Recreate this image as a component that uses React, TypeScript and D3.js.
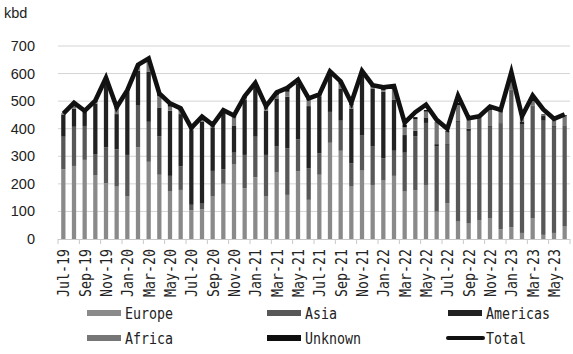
import { useEffect, useRef } from "react";
import * as d3 from "d3";

// monthly exports by destination, kbd
const months = [
  "Jul-19", "Aug-19", "Sep-19", "Oct-19", "Nov-19", "Dec-19",
  "Jan-20", "Feb-20", "Mar-20", "Apr-20", "May-20", "Jun-20",
  "Jul-20", "Aug-20", "Sep-20", "Oct-20", "Nov-20", "Dec-20",
  "Jan-21", "Feb-21", "Mar-21", "Apr-21", "May-21", "Jun-21",
  "Jul-21", "Aug-21", "Sep-21", "Oct-21", "Nov-21", "Dec-21",
  "Jan-22", "Feb-22", "Mar-22", "Apr-22", "May-22", "Jun-22",
  "Jul-22", "Aug-22", "Sep-22", "Oct-22", "Nov-22", "Dec-22",
  "Jan-23", "Feb-23", "Mar-23", "Apr-23", "May-23", "Jun-23",
];

const europe = [
  253, 265, 287, 232, 202, 190, 154, 333, 280, 233, 172, 178,
  104, 108, 154, 200, 272, 184, 224, 154, 241, 160, 245, 142,
  233, 349, 320, 190, 248, 196, 212, 229, 172, 176, 196, 99,
  129, 63, 58, 69, 76, 35, 43, 22, 76, 15, 22, 45,
];
const asia = [
  118, 142, 123, 76, 130, 135, 151, 153, 145, 140, 57, 85,
  20, 20, 93, 53, 41, 121, 147, 151, 96, 169, 116, 115,
  78, 112, 109, 85, 129, 141, 81, 91, 141, 197, 225, 238,
  212, 362, 334, 369, 331, 385, 497, 395, 406, 414, 385, 365,
];
const americas = [
  79, 66, 51, 183, 244, 128, 229, 124, 181, 104, 236, 190,
  271, 297, 158, 208, 97, 199, 181, 160, 173, 187, 203, 225,
  207, 139, 117, 198, 217, 209, 241, 186, 64, 20, 20, 7,
  3, 3, 8, 2, 3, 3, 2, 8, 2, 17, 3, 2,
];
const africa = [
  3, 9, 2, 5, 4, 20, 4, 14, 40, 41, 15, 10,
  3, 6, 3, 3, 31, 6, 6, 8, 12, 18, 6, 22,
  5, 5, 15, 13, 8, 6, 5, 36, 28, 41, 21, 76,
  45, 58, 38, 7, 58, 39, 37, 13, 16, 3, 22, 34,
];
const unknown = [
  2, 8, 2, 4, 5, 5, 4, 6, 8, 10, 10, 8,
  3, 8, 4, 3, 5, 6, 6, 8, 6, 10, 6, 6,
  4, 5, 8, 6, 6, 6, 5, 8, 10, 8, 6, 3,
  3, 8, 2, 2, 4, 4, 10, 3, 4, 3, 4, 3,
];
const total = [
  455, 494, 465, 502, 585, 478, 540, 632, 655, 528, 492, 474,
  403, 444, 414, 467, 448, 518, 566, 482, 532, 548, 578, 510,
  524, 608, 572, 494, 610, 558, 550, 555, 422, 460, 487, 432,
  400, 520, 438, 445, 480, 468, 605, 445, 520, 470, 436, 452,
];

const yTicks = [0, 100, 200, 300, 400, 500, 600, 700];

const seriesKeys = ["Europe", "Asia", "Americas", "Africa", "Unknown"];
const seriesColors: Record<string, string> = {
  Europe: "#8a8a8a",
  Asia: "#585858",
  Americas: "#222222",
  Africa: "#767676",
  Unknown: "#0e0e0e",
};

const monoFont = "'DejaVu Sans Mono', monospace";
const sansFont = "'Liberation Sans', Arial, sans-serif";

export default function App() {
  const svgRef = useRef<SVGSVGElement>(null);

  useEffect(() => {
    if (!svgRef.current) return;
    const width = 573;
    const height = 354;
    const margin = { top: 46, right: 3, bottom: 115, left: 58 };
    const innerW = width - margin.left - margin.right;
    const innerH = height - margin.top - margin.bottom;

    const svg = d3.select(svgRef.current);
    svg.selectAll("*").remove();
    const g = svg
      .append("g")
      .attr("transform", `translate(${margin.left},${margin.top})`);

    const x = d3
      .scaleBand<string>()
      .domain(months)
      .range([0, innerW])
      .paddingInner(0.6)
      .paddingOuter(0.3);
    const y = d3.scaleLinear().domain([0, 700]).range([innerH, 0]);

    // gridlines
    g.append("g")
      .selectAll("line")
      .data(yTicks.filter((t) => t > 0))
      .join("line")
      .attr("x1", 0)
      .attr("x2", innerW)
      .attr("y1", (d) => y(d))
      .attr("y2", (d) => y(d))
      .attr("stroke", "#d4d4d4")
      .attr("stroke-width", 1);

    // y labels
    g.append("g")
      .selectAll("text")
      .data(yTicks)
      .join("text")
      .attr("x", -23)
      .attr("y", (d) => y(d) + 5)
      .attr("text-anchor", "end")
      .style("font-family", sansFont)
      .style("font-size", "14.5px")
      .style("fill", "#222")
      .text((d) => d);

    svg
      .append("text")
      .attr("x", 4)
      .attr("y", 18)
      .style("font-family", sansFont)
      .style("font-size", "14.5px")
      .style("fill", "#222")
      .text("kbd");

    // stacked bars
    const rows = months.map((m, i) => ({
      month: m,
      Europe: europe[i],
      Asia: asia[i],
      Americas: americas[i],
      Africa: africa[i],
      Unknown: unknown[i],
    }));
    const stacked = d3.stack<any>().keys(seriesKeys)(rows);

    stacked.forEach((layer) => {
      g.append("g")
        .attr("fill", seriesColors[layer.key])
        .selectAll("rect")
        .data(layer)
        .join("rect")
        .attr("x", (d) => x(d.data.month)!)
        .attr("width", x.bandwidth())
        .attr("y", (d) => y(d[1]))
        .attr("height", (d) => Math.max(0, y(d[0]) - y(d[1])));
    });

    // x axis line + ticks every 2 months at category boundaries
    g.append("line")
      .attr("x1", 0)
      .attr("x2", innerW)
      .attr("y1", innerH + 0.5)
      .attr("y2", innerH + 0.5)
      .attr("stroke", "#c8c8c8");
    const step = x.step();
    const left0 = x(months[0])! - step * 0.3;
    const tickIdx = d3.range(0, months.length + 1, 2);
    g.append("g")
      .selectAll("line")
      .data(tickIdx)
      .join("line")
      .attr("x1", (i) => left0 + i * step)
      .attr("x2", (i) => left0 + i * step)
      .attr("y1", innerH)
      .attr("y2", innerH + 5)
      .attr("stroke", "#c8c8c8");

    g.append("g")
      .selectAll("text")
      .data(months.filter((_, i) => i % 2 === 0))
      .join("text")
      .attr(
        "transform",
        (d) =>
          `translate(${x(d)! + x.bandwidth() / 2 + 6},${innerH + 10}) rotate(-90) scale(1,1.2)`,
      )
      .attr("text-anchor", "end")
      .style("font-family", monoFont)
      .style("font-size", "13.3px")
      .style("fill", "#222")
      .text((d) => d);

    // total line
    const line = d3
      .line<number>()
      .x((_, i) => x(months[i])! + x.bandwidth() / 2)
      .y((d) => y(d));
    g.append("path")
      .datum(total)
      .attr("fill", "none")
      .attr("stroke", "#111")
      .attr("stroke-width", 4.6)
      .attr("stroke-linejoin", "miter")
      .attr("d", line);

    // legend
    const legend = svg.append("g");
    const entries = [
      { name: "Europe", col: 0, row: 0 },
      { name: "Asia", col: 1, row: 0 },
      { name: "Americas", col: 2, row: 0 },
      { name: "Africa", col: 0, row: 1 },
      { name: "Unknown", col: 1, row: 1 },
      { name: "Total", col: 2, row: 1 },
    ];
    const colX = [87, 267, 448];
    const rowY = [313, 338];
    entries.forEach((e) => {
      const lx = colX[e.col];
      const ly = rowY[e.row];
      if (e.name === "Total") {
        legend
          .append("line")
          .attr("x1", lx)
          .attr("x2", lx + 35)
          .attr("y1", ly)
          .attr("y2", ly)
          .attr("stroke", "#111")
          .attr("stroke-width", 4)
          .attr("stroke-linecap", "round");
      } else {
        legend
          .append("rect")
          .attr("x", lx)
          .attr("y", ly - 3)
          .attr("width", 34)
          .attr("height", 6)
          .attr("fill", seriesColors[e.name]);
      }
      legend
        .append("text")
        .attr("transform", `translate(${lx + 38},${ly + 6}) scale(1,1.2)`)
        .style("font-family", monoFont)
        .style("font-size", "13.3px")
        .style("fill", "#222")
        .text(e.name);
    });
  }, []);

  return (
    <svg
      ref={svgRef}
      width={573}
      height={354}
      style={{ position: "absolute", left: 0, top: 0, background: "#fff" }}
    />
  );
}
